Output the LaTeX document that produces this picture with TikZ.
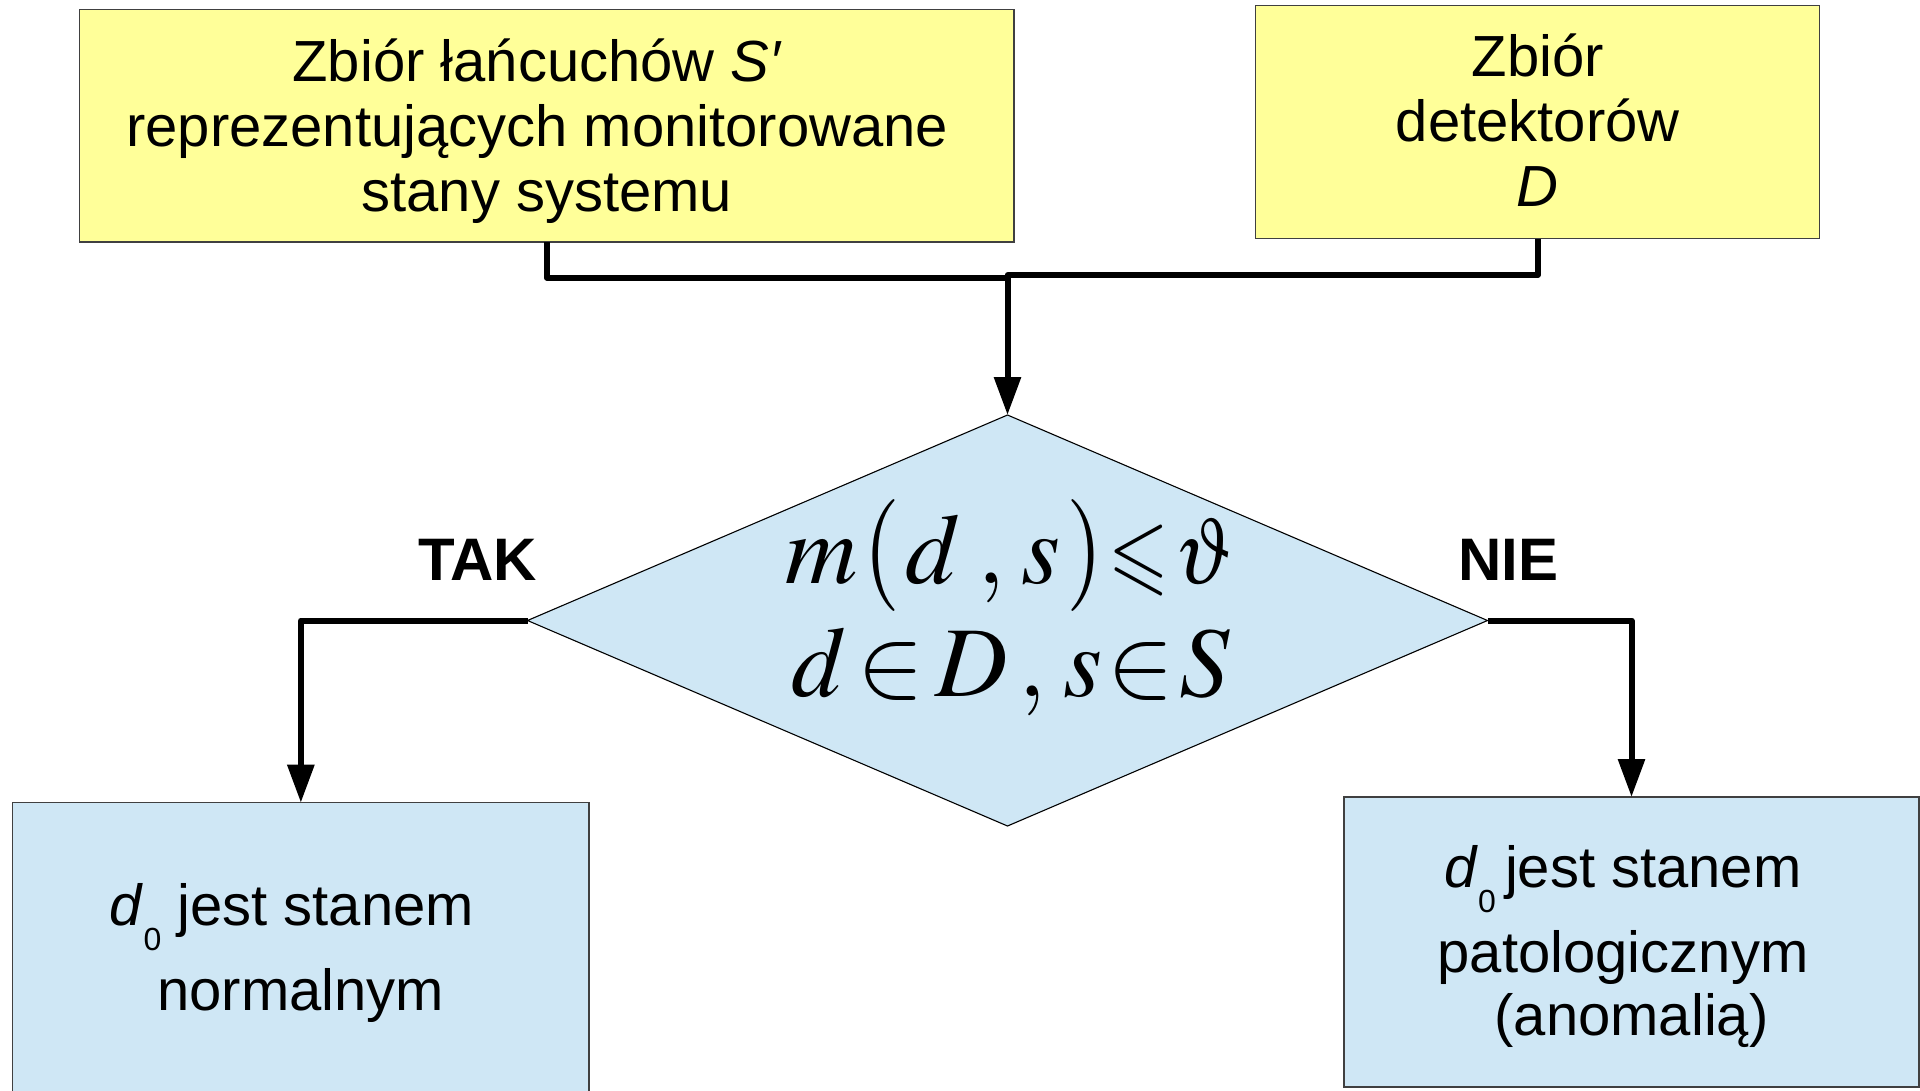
\documentclass[tikz,border=0pt]{standalone}
\usepackage{mathptmx}
\usepackage{amssymb}
\usepackage[no-math]{fontspec}
\setmainfont{Liberation Sans}
\usepackage{graphicx}
\usetikzlibrary{arrows.meta,shapes.geometric}

\definecolor{boxyellow}{RGB}{255,255,153}
\definecolor{boxblue}{RGB}{207,231,245}

% invisible struts fixing the height of a first line / depth of a last line
\newcommand{\hstrut}[1]{\vrule height #1 depth 0pt width 0pt}
\newcommand{\dstrut}[1]{\vrule height 0pt depth #1 width 0pt}
% lowered index zero after d
\newcommand{\idxzero}{\raisebox{-25pt}{\fontsize{32}{32}\selectfont 0}}
% narrower relation and theta, slightly stretched parentheses
\newcommand{\slimleq}{\scalebox{0.78}[0.92]{$\leqslant$}}
\newcommand{\slimtheta}{\scalebox{0.8}[0.95]{$\vartheta$}}
\newcommand{\tallparen}[1]{\scalebox{0.95}[1.12]{$#1$}}

\begin{document}
\begin{tikzpicture}[x=1pt,y=-1pt,
  every node/.style={inner sep=0pt,outer sep=0pt},
  txt/.style={font={\fontsize{58}{65}\selectfont\lineskiplimit=-200pt}, align=center, text=black},
  inbox/.style={draw=black!75, line width=1.3pt, fill=boxyellow, txt},
  outbox/.style={draw=black!75, line width=1.3pt, fill=boxblue, txt},
  decision/.style={diamond, draw=black, line width=1.1pt, fill=boxblue,
                   minimum width=960pt, minimum height=411pt},
  flow/.style={line width=6pt, line join=round, draw=black},
  flowarrow/.style={flow, -{Triangle[length=38pt,width=26pt]}},
  answer/.style={font={\fontsize{60}{60}\selectfont\bfseries}, anchor=base},
  formula/.style={anchor=base}
]
\path[use as bounding box] (0,0) rectangle (1920,1090);
\clip (0,0) rectangle (1920,1090);

% input sets
\node[inbox, minimum width=934.4pt, minimum height=232.5pt] (src) at (546.8,125.75)
  {\hstrut{60pt}Zbiór łańcuchów \textit{S′}\kern19pt\\
   reprezentujących monitorowane\kern19pt\\
   stany systemu\dstrut{18.2pt}};
\node[inbox, minimum width=564.3pt, minimum height=232.8pt] (det) at (1537.65,122.1)
  {\hstrut{60pt}Zbiór\\ detektorów\\ \textit{D}\dstrut{20.8pt}};

% decision
\node[decision] (dec) at (1007.5,620.5) {};
\node[formula] (f1) at (1010,583.3)
  {\scalebox{10}{$m\mkern1mu\tallparen{(}\mkern1mu d\mkern3mu{,}\mkern3mu s\mkern1mu\tallparen{)}\mkern1mu{\slimleq}\mkern1mu\slimtheta$}};
\node[formula] (f2) at (1011,696.7)
  {\scalebox{10}{$d\mkern2mu{\in}\mkern2mu D\mkern2mu{,}\mkern3mu s\mkern1mu{\in}\mkern1mu S$}};

% outcomes
\node[outbox, minimum width=576.3pt, minimum height=297.3pt,
      font={\fontsize{58}{85}\selectfont\lineskiplimit=-200pt}] (normal) at (300.85,951.35)
  {\hstrut{55pt}\textit{d}\idxzero{} jest stanem\kern18pt\\ normalnym\dstrut{22.7pt}};
\node[outbox, minimum width=575pt, minimum height=290pt,
      font={\fontsize{58}{63}\selectfont\lineskiplimit=-200pt}] (anomaly) at (1631.5,942)
  {\hstrut{58pt}\textit{d}\idxzero\kern9pt jest stanem\kern17pt\\[22pt]
   patologicznym\kern17pt\\ (anomalią)\dstrut{20pt}};

% branch labels
\node[answer] (yes) at (477.5,580) {TAK};
\node[answer] (no) at (1508,580) {NIE};

% connectors
\coordinate (jl) at (1007.5,277.5);
\coordinate (jr) at (1007.5,275);
\draw[flow] (src.south) |- (jl);
\draw[flowarrow] (det.south) |- (jr) -- (dec.north);
\draw[flowarrow] (dec.west) -| (normal.north);
\draw[flowarrow] (dec.east) -| (anomaly.north);
\end{tikzpicture}
\end{document}
